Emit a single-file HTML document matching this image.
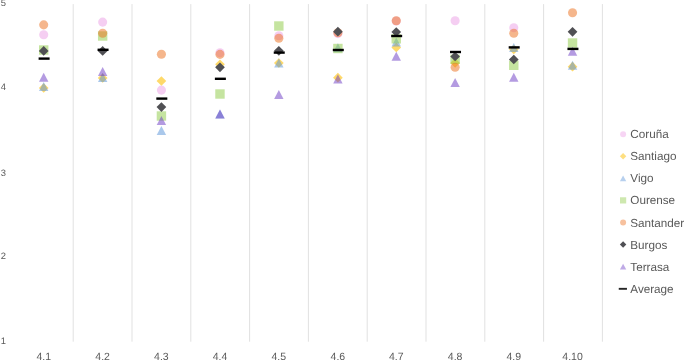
<!DOCTYPE html>
<html><head><meta charset="utf-8"><title>Chart</title>
<style>
html,body{margin:0;padding:0;background:#fff;}
body{width:685px;height:361px;overflow:hidden;}
svg{display:block;text-rendering:geometricPrecision;filter:blur(0.4px);}
.ax{font-family:"Liberation Sans",Arial,sans-serif;font-size:10.5px;fill:#595959;}
.ay{font-family:"Liberation Sans",Arial,sans-serif;font-size:9.4px;fill:#595959;}
.lg{font-family:"Liberation Sans",Arial,sans-serif;font-size:11.7px;fill:#595959;}
</style></head>
<body>
<svg width="685" height="361" viewBox="0 0 685 361">
<rect width="685" height="361" fill="#fff"/>
<line x1="73.20" y1="4.1" x2="73.20" y2="341.7" stroke="#e1e1e1" stroke-width="1"/>
<line x1="132.00" y1="4.1" x2="132.00" y2="341.7" stroke="#e1e1e1" stroke-width="1"/>
<line x1="190.80" y1="4.1" x2="190.80" y2="341.7" stroke="#e1e1e1" stroke-width="1"/>
<line x1="249.60" y1="4.1" x2="249.60" y2="341.7" stroke="#e1e1e1" stroke-width="1"/>
<line x1="308.40" y1="4.1" x2="308.40" y2="341.7" stroke="#e1e1e1" stroke-width="1"/>
<line x1="367.20" y1="4.1" x2="367.20" y2="341.7" stroke="#e1e1e1" stroke-width="1"/>
<line x1="426.00" y1="4.1" x2="426.00" y2="341.7" stroke="#e1e1e1" stroke-width="1"/>
<line x1="484.80" y1="4.1" x2="484.80" y2="341.7" stroke="#e1e1e1" stroke-width="1"/>
<line x1="543.60" y1="4.1" x2="543.60" y2="341.7" stroke="#e1e1e1" stroke-width="1"/>
<line x1="602.40" y1="4.1" x2="602.40" y2="341.7" stroke="#e1e1e1" stroke-width="1"/>
<circle cx="43.70" cy="34.70" r="4.55" fill="#eb9de5" fill-opacity="0.5"/>
<path d="M43.70 83.15L48.55 88.00L43.70 92.85L38.85 88.00Z" fill="#fdc007" fill-opacity="0.6"/>
<path d="M43.70 82.00L48.40 91.00L39.00 91.00Z" fill="#5591d7" fill-opacity="0.5"/>
<rect x="39.00" y="45.30" width="9.4" height="9.4" fill="#8bc941" fill-opacity="0.5"/>
<circle cx="43.70" cy="24.85" r="4.55" fill="#eb6d19" fill-opacity="0.5"/>
<path d="M43.70 46.05L48.55 50.90L43.70 55.75L38.85 50.90Z" fill="#505054" fill-opacity="1"/>
<path d="M43.70 72.70L48.40 81.70L39.00 81.70Z" fill="#6937c3" fill-opacity="0.5"/>
<rect x="38.60" y="57.40" width="11.0" height="2.4" fill="#000"/>
<circle cx="102.66" cy="22.10" r="4.55" fill="#eb9de5" fill-opacity="0.5"/>
<path d="M102.66 73.15L107.51 78.00L102.66 82.85L97.81 78.00Z" fill="#fdc007" fill-opacity="0.6"/>
<path d="M102.66 73.00L107.36 82.00L97.96 82.00Z" fill="#5591d7" fill-opacity="0.5"/>
<rect x="97.96" y="31.30" width="9.4" height="9.4" fill="#8bc941" fill-opacity="0.5"/>
<circle cx="102.66" cy="33.30" r="4.55" fill="#eb6d19" fill-opacity="0.5"/>
<path d="M102.66 46.05L107.51 50.90L102.66 55.75L97.81 50.90Z" fill="#505054" fill-opacity="1"/>
<path d="M102.66 67.00L107.36 76.00L97.96 76.00Z" fill="#6937c3" fill-opacity="0.5"/>
<rect x="97.56" y="48.60" width="11.0" height="2.4" fill="#000"/>
<circle cx="161.42" cy="90.10" r="4.55" fill="#eb9de5" fill-opacity="0.5"/>
<path d="M161.42 76.15L166.27 81.00L161.42 85.85L156.57 81.00Z" fill="#fdc007" fill-opacity="0.6"/>
<path d="M161.42 126.10L166.12 135.10L156.72 135.10Z" fill="#5591d7" fill-opacity="0.5"/>
<rect x="156.72" y="111.30" width="9.4" height="9.4" fill="#8bc941" fill-opacity="0.5"/>
<circle cx="161.42" cy="54.30" r="4.55" fill="#eb6d19" fill-opacity="0.5"/>
<path d="M161.42 102.25L166.27 107.10L161.42 111.95L156.57 107.10Z" fill="#505054" fill-opacity="1"/>
<path d="M161.42 115.90L166.12 124.90L156.72 124.90Z" fill="#6937c3" fill-opacity="0.5"/>
<rect x="156.32" y="97.40" width="11.0" height="2.4" fill="#000"/>
<circle cx="219.98" cy="52.80" r="4.55" fill="#eb9de5" fill-opacity="0.5"/>
<path d="M219.98 59.45L224.83 64.30L219.98 69.15L215.13 64.30Z" fill="#fdc007" fill-opacity="0.6"/>
<path d="M219.98 109.40L224.68 118.40L215.28 118.40Z" fill="#5591d7" fill-opacity="0.5"/>
<rect x="215.28" y="89.30" width="9.4" height="9.4" fill="#8bc941" fill-opacity="0.5"/>
<circle cx="219.98" cy="54.40" r="4.55" fill="#eb6d19" fill-opacity="0.5"/>
<path d="M219.98 62.45L224.83 67.30L219.98 72.15L215.13 67.30Z" fill="#505054" fill-opacity="1"/>
<path d="M219.98 109.40L224.68 118.40L215.28 118.40Z" fill="#6937c3" fill-opacity="0.5"/>
<rect x="214.88" y="77.60" width="11.0" height="2.4" fill="#000"/>
<circle cx="278.84" cy="35.80" r="4.55" fill="#eb9de5" fill-opacity="0.5"/>
<path d="M278.84 58.15L283.69 63.00L278.84 67.85L273.99 63.00Z" fill="#fdc007" fill-opacity="0.6"/>
<path d="M278.84 58.50L283.54 67.50L274.14 67.50Z" fill="#5591d7" fill-opacity="0.5"/>
<rect x="274.14" y="21.30" width="9.4" height="9.4" fill="#8bc941" fill-opacity="0.5"/>
<circle cx="278.84" cy="38.30" r="4.55" fill="#eb6d19" fill-opacity="0.5"/>
<path d="M278.84 45.95L283.69 50.80L278.84 55.65L273.99 50.80Z" fill="#505054" fill-opacity="1"/>
<path d="M278.84 89.90L283.54 98.90L274.14 98.90Z" fill="#6937c3" fill-opacity="0.5"/>
<rect x="273.74" y="51.40" width="11.0" height="2.4" fill="#000"/>
<circle cx="337.90" cy="33.60" r="4.55" fill="#eb9de5" fill-opacity="0.5"/>
<path d="M337.90 72.85L342.75 77.70L337.90 82.55L333.05 77.70Z" fill="#fdc007" fill-opacity="0.6"/>
<path d="M337.90 43.30L342.60 52.30L333.20 52.30Z" fill="#5591d7" fill-opacity="0.5"/>
<rect x="333.20" y="43.80" width="9.4" height="9.4" fill="#8bc941" fill-opacity="0.5"/>
<circle cx="337.90" cy="32.80" r="4.55" fill="#eb6d19" fill-opacity="0.5"/>
<path d="M337.90 26.85L342.75 31.70L337.90 36.55L333.05 31.70Z" fill="#505054" fill-opacity="1"/>
<path d="M337.90 74.50L342.60 83.50L333.20 83.50Z" fill="#6937c3" fill-opacity="0.5"/>
<rect x="332.80" y="48.80" width="11.0" height="2.4" fill="#000"/>
<circle cx="396.26" cy="21.00" r="4.55" fill="#eb9de5" fill-opacity="0.5"/>
<path d="M396.26 42.65L401.11 47.50L396.26 52.35L391.41 47.50Z" fill="#fdc007" fill-opacity="0.6"/>
<path d="M396.26 37.50L400.96 46.50L391.56 46.50Z" fill="#5591d7" fill-opacity="0.5"/>
<rect x="391.56" y="34.10" width="9.4" height="9.4" fill="#8bc941" fill-opacity="0.5"/>
<circle cx="396.26" cy="20.70" r="4.55" fill="#eb6d19" fill-opacity="0.5"/>
<path d="M396.26 27.15L401.11 32.00L396.26 36.85L391.41 32.00Z" fill="#505054" fill-opacity="1"/>
<path d="M396.26 51.70L400.96 60.70L391.56 60.70Z" fill="#6937c3" fill-opacity="0.5"/>
<rect x="391.16" y="34.80" width="11.0" height="2.4" fill="#000"/>
<circle cx="455.12" cy="20.80" r="4.55" fill="#eb9de5" fill-opacity="0.5"/>
<path d="M455.12 58.15L459.97 63.00L455.12 67.85L450.27 63.00Z" fill="#fdc007" fill-opacity="0.6"/>
<rect x="450.42" y="54.60" width="9.4" height="9.4" fill="#8bc941" fill-opacity="0.5"/>
<circle cx="455.12" cy="67.20" r="4.55" fill="#eb6d19" fill-opacity="0.5"/>
<path d="M455.12 51.65L459.97 56.50L455.12 61.35L450.27 56.50Z" fill="#505054" fill-opacity="1"/>
<path d="M455.12 78.10L459.82 87.10L450.42 87.10Z" fill="#6937c3" fill-opacity="0.5"/>
<rect x="450.02" y="50.80" width="11.0" height="2.4" fill="#000"/>
<circle cx="513.78" cy="27.80" r="4.55" fill="#eb9de5" fill-opacity="0.5"/>
<path d="M513.78 44.65L518.63 49.50L513.78 54.35L508.93 49.50Z" fill="#fdc007" fill-opacity="0.6"/>
<path d="M513.78 43.10L518.48 52.10L509.08 52.10Z" fill="#5591d7" fill-opacity="0.5"/>
<rect x="509.08" y="60.60" width="9.4" height="9.4" fill="#8bc941" fill-opacity="0.5"/>
<circle cx="513.78" cy="33.30" r="4.55" fill="#eb6d19" fill-opacity="0.5"/>
<path d="M513.78 54.65L518.63 59.50L513.78 64.35L508.93 59.50Z" fill="#505054" fill-opacity="1"/>
<path d="M513.78 72.70L518.48 81.70L509.08 81.70Z" fill="#6937c3" fill-opacity="0.5"/>
<rect x="508.68" y="46.20" width="11.0" height="2.4" fill="#000"/>
<path d="M572.54 61.85L577.39 66.70L572.54 71.55L567.69 66.70Z" fill="#fdc007" fill-opacity="0.6"/>
<path d="M572.54 60.80L577.24 69.80L567.84 69.80Z" fill="#5591d7" fill-opacity="0.5"/>
<rect x="567.84" y="38.30" width="9.4" height="9.4" fill="#8bc941" fill-opacity="0.5"/>
<circle cx="572.54" cy="12.70" r="4.55" fill="#eb6d19" fill-opacity="0.5"/>
<path d="M572.54 26.95L577.39 31.80L572.54 36.65L567.69 31.80Z" fill="#505054" fill-opacity="1"/>
<path d="M572.54 46.70L577.24 55.70L567.84 55.70Z" fill="#6937c3" fill-opacity="0.5"/>
<rect x="567.44" y="47.70" width="11.0" height="2.4" fill="#000"/>
<text x="0.8" y="6.30" class="ay">5</text>
<text x="0.8" y="90.40" class="ay">4</text>
<text x="0.8" y="175.60" class="ay">3</text>
<text x="0.8" y="259.40" class="ay">2</text>
<text x="0.8" y="344.40" class="ay">1</text>
<text x="43.70" y="359.8" class="ax" text-anchor="middle">4.1</text>
<text x="102.66" y="359.8" class="ax" text-anchor="middle">4.2</text>
<text x="161.42" y="359.8" class="ax" text-anchor="middle">4.3</text>
<text x="219.98" y="359.8" class="ax" text-anchor="middle">4.4</text>
<text x="278.84" y="359.8" class="ax" text-anchor="middle">4.5</text>
<text x="337.90" y="359.8" class="ax" text-anchor="middle">4.6</text>
<text x="396.26" y="359.8" class="ax" text-anchor="middle">4.7</text>
<text x="455.12" y="359.8" class="ax" text-anchor="middle">4.8</text>
<text x="513.78" y="359.8" class="ax" text-anchor="middle">4.9</text>
<text x="572.54" y="359.8" class="ax" text-anchor="middle">4.10</text>
<circle cx="623.10" cy="134.20" r="3.0" fill="#eb9de5" fill-opacity="0.425"/>
<text x="630.3" y="138.30" class="lg">Coruña</text>
<path d="M623.10 153.06L626.30 156.26L623.10 159.46L619.90 156.26Z" fill="#fdc007" fill-opacity="0.51"/>
<text x="630.3" y="160.36" class="lg">Santiago</text>
<path d="M623.10 175.42L626.25 181.22L619.95 181.22Z" fill="#5591d7" fill-opacity="0.425"/>
<text x="630.3" y="182.42" class="lg">Vigo</text>
<rect x="620.00" y="197.28" width="6.2" height="6.2" fill="#8bc941" fill-opacity="0.425"/>
<text x="630.3" y="204.48" class="lg">Ourense</text>
<circle cx="623.10" cy="222.44" r="3.0" fill="#eb6d19" fill-opacity="0.425"/>
<text x="630.3" y="226.54" class="lg">Santander</text>
<path d="M623.10 241.30L626.30 244.50L623.10 247.70L619.90 244.50Z" fill="#505054" fill-opacity="1"/>
<text x="630.3" y="248.60" class="lg">Burgos</text>
<path d="M623.10 263.66L626.25 269.46L619.95 269.46Z" fill="#6937c3" fill-opacity="0.425"/>
<text x="630.3" y="270.66" class="lg">Terrasa</text>
<rect x="618.75" y="287.87" width="8.2" height="1.9" fill="#262626"/>
<text x="630.3" y="292.72" class="lg">Average</text>
</svg>
</body></html>
